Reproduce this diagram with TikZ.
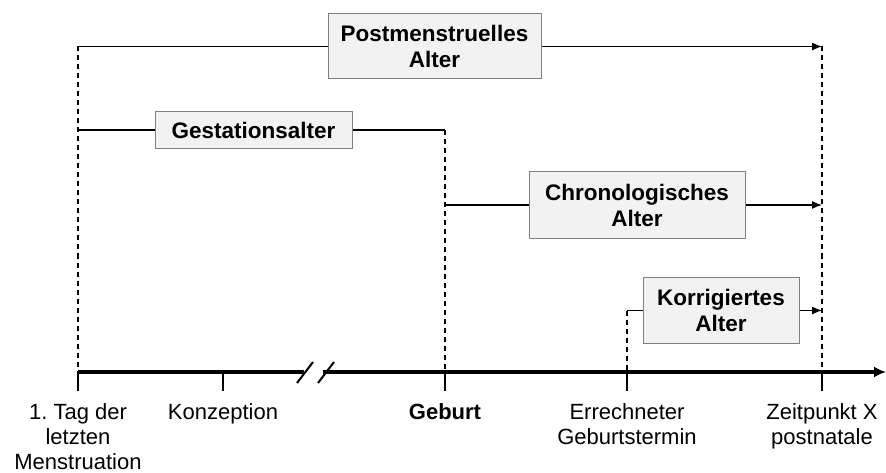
\documentclass[tikz,border=0pt]{standalone}
\usepackage{fontspec}
\setmainfont{Liberation Sans}
\usetikzlibrary{arrows.meta,calc}
\definecolor{boxGray}{RGB}{242,242,242}
\definecolor{edgeGray}{RGB}{128,128,128}
\frenchspacing

\begin{document}
\begin{tikzpicture}[x=1pt,y=-1pt,
  agebox/.style={rectangle,draw=edgeGray,fill=boxGray,line width=1pt,align=center,inner sep=0pt,font=\fontsize{22.5}{26}\selectfont\bfseries},
  agespan/.style={line width=1.2pt},
  agespanarrow/.style={line width=1.2pt,-{Latex[length=10pt,width=8pt]}},
  dropline/.style={dash pattern=on 5pt off 4pt,line width=1.2pt},
  tickmark/.style={line width=2pt},
  ticklabel/.style={anchor=north,align=center,inner sep=0pt,font=\fontsize{22}{25}\selectfont}]
\useasboundingbox (0,0) rectangle (886,473);

% Zeitachse
\coordinate (lmp) at (78,372);
\coordinate (conc) at (223,372);
\coordinate (birth) at (445,372);
\coordinate (due) at (627,372);
\coordinate (ptx) at (822,372);
\coordinate (brkL) at (304,372);
\coordinate (brkR) at (323,372);
\coordinate (axisend) at (886,372);
\draw[line width=3.5pt] (lmp) -- (brkL);
\draw[line width=3.5pt,-{Latex[length=12pt,width=11pt]}] (brkR) -- (axisend);
\draw[line width=2pt] ($(brkL)+(-7,11)$) -- ++(16,-21);
\draw[line width=2pt] ($(brkR)+(-5,11)$) -- ++(16,-21);
\foreach \t in {lmp,conc,birth,due,ptx}
  \draw[tickmark] (\t) -- ++(0,19);

\node[ticklabel] (lmplabel) at (78,403) {1. Tag der\\letzten\\Menstruation};
\node[ticklabel] (conclabel) at (223,403) {Konzeption};
\node[ticklabel,font=\fontsize{22}{25}\selectfont\bfseries] (birthlabel) at (445,403) {Geburt};
\node[ticklabel] (duelabel) at (627,403) {Errechneter\\Geburtstermin};
\node[ticklabel] (ptxlabel) at (822,403) {Zeitpunkt X\\postnatale};

% Altersbegriffe
\node[agebox,minimum width=213pt,minimum height=65pt] (pma) at (434.5,46.5) {Postmenstruelles\\Alter};
\node[agebox,minimum width=197pt,minimum height=37pt] (ga) at (253.5,130) {Gestationsalter};
\node[agebox,minimum width=216pt,minimum height=66pt] (ca) at (637,205) {Chronologisches\\Alter};
\node[agebox,minimum width=156pt,minimum height=66pt] (ka) at (721,310.5) {Korrigiertes\\Alter};

\draw[agespan] (lmp |- pma) -- (pma);
\draw[agespanarrow] (pma) -- (ptx |- pma);
\draw[dropline] (lmp |- pma) -- (lmp);
\draw[dropline] (ptx |- pma) -- (ptx);

\draw[agespan] (lmp |- ga) -- (ga);
\draw[agespan] (ga) -- (birth |- ga);
\draw[dropline] (birth |- ga) -- (birth);

\draw[agespan] (birth |- ca) -- (ca);
\draw[agespanarrow] (ca) -- (ptx |- ca);

\draw[agespan] (due |- ka) -- (ka);
\draw[agespanarrow] (ka) -- (ptx |- ka);
\draw[dropline] (due |- ka) -- (due);
\end{tikzpicture}
\end{document}
